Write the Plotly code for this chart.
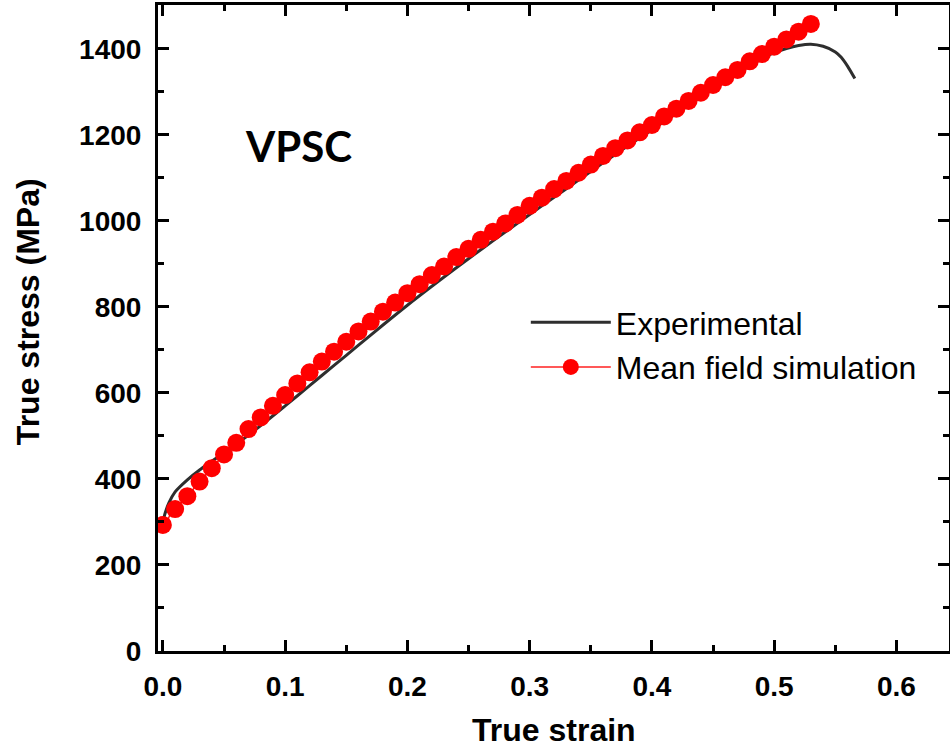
import plotly.graph_objects as go

# Experimental true stress-strain curve
exp_strain = [0.0, 0.002, 0.005, 0.01, 0.02, 0.03, 0.04, 0.05, 0.06, 0.08, 0.10, 0.12, 0.14, 0.16,
              0.18, 0.20, 0.22, 0.24, 0.26, 0.28, 0.30, 0.32, 0.34, 0.36, 0.38, 0.40, 0.42, 0.44,
              0.46, 0.48, 0.49, 0.50, 0.51, 0.52, 0.53, 0.54, 0.55, 0.555, 0.56, 0.566]
exp_stress = [300, 322, 345, 370, 398, 421, 441, 461, 481, 524, 570, 617, 664, 711,
              758, 804, 848, 891, 933, 974, 1015, 1055, 1095, 1135, 1174, 1212, 1250, 1289,
              1327, 1361, 1377, 1391, 1401, 1408, 1411, 1406, 1393, 1380, 1360, 1331]

# Mean field (VPSC) simulation
sim_strain = [round(0.01 * i, 2) for i in range(54)]
sim_stress = [293, 330, 360, 394, 425, 457, 484, 516, 543, 570,
              595, 622, 648, 673, 696, 719, 743, 766, 789, 810,
              832, 853, 874, 894, 916, 935, 956, 975, 994, 1014,
              1035, 1054, 1074, 1093, 1112, 1131, 1151, 1169, 1187, 1206,
              1223, 1243, 1261, 1279, 1298, 1316, 1334, 1351, 1371, 1388,
              1405, 1422, 1440, 1458]

fig = go.Figure()
fig.add_trace(go.Scatter(x=exp_strain, y=exp_stress, mode="lines", name="Experimental",
                         line=dict(color="#2e2e2e", width=3, shape="spline", smoothing=0.8)))
fig.add_trace(go.Scatter(x=sim_strain, y=sim_stress, mode="lines+markers", name="Mean field simulation",
                         line=dict(color="#ff2020", width=1.5),
                         marker=dict(color="#ff0000", size=18, line=dict(width=0))))

tickfont = dict(family="Liberation Sans, Arial, sans-serif", size=28, color="black", weight="bold")
axis_common = dict(showgrid=False, zeroline=False, showline=True, mirror="ticks",
                   linecolor="black", linewidth=3, ticks="inside", ticklen=11, tickwidth=2.5,
                   tickcolor="black", tickfont=tickfont, ticklabelstandoff=8)

fig.update_layout(
    width=950, height=748,
    margin=dict(l=158, r=1, t=5, b=97, autoexpand=False),
    paper_bgcolor="white", plot_bgcolor="white",
    xaxis=dict(range=[-0.004, 0.643], tick0=0, dtick=0.1, tickformat=".1f",
               minor=dict(dtick=0.05, tick0=0, ticks="inside", ticklen=6, tickwidth=2.5, tickcolor="black"),
               **axis_common),
    yaxis=dict(range=[0, 1502], tick0=0, dtick=200,
               minor=dict(dtick=100, tick0=0, ticks="inside", ticklen=6, tickwidth=2.5, tickcolor="black"),
               **axis_common),
    legend=dict(x=0.465, y=0.551, xanchor="left", yanchor="top", bgcolor="rgba(0,0,0,0)",
                font=dict(family="Liberation Sans, Arial, sans-serif", size=32, color="black"),
                itemwidth=80, tracegroupgap=0),
    annotations=[
        dict(text="VPSC", x=0.177, y=0.782, xref="paper", yref="paper", showarrow=False,
             xanchor="center", yanchor="middle",
             font=dict(family="Lato, sans-serif", size=42, color="black", weight="bold")),
        dict(text="True strain", x=0.5, y=-0.122, xref="paper", yref="paper", showarrow=False,
             xanchor="center", yanchor="middle",
             font=dict(family="Liberation Sans, Arial, sans-serif", size=32, color="black", weight="bold")),
        dict(text="True stress (MPa)", x=-0.164, y=0.525, xref="paper", yref="paper", showarrow=False,
             xanchor="center", yanchor="middle", textangle=-90,
             font=dict(family="Liberation Sans, Arial, sans-serif", size=32, color="black", weight="bold")),
    ],
)

fig.write_html("out.html")
